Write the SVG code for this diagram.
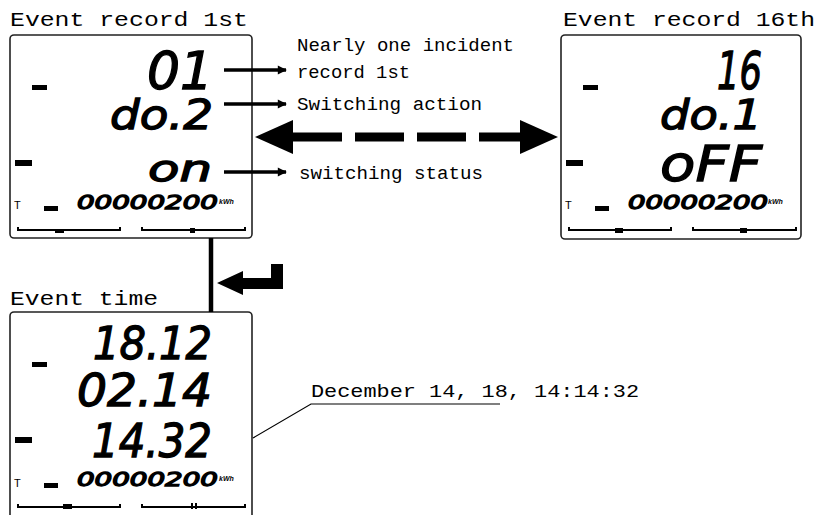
<svg xmlns="http://www.w3.org/2000/svg" width="817" height="515" viewBox="0 0 817 515">
<defs>
<style>
.title{font-family:"Liberation Mono","DejaVu Sans Mono",monospace;font-size:20px;fill:#000}
.lbl{font-family:"Liberation Mono","DejaVu Sans Mono",monospace;font-size:18px;fill:#000}
.lcd{font-family:"DejaVu Sans","Liberation Sans",sans-serif;font-style:italic;fill:#000;stroke:#000;stroke-width:1.3}
.small{font-family:"Liberation Sans","DejaVu Sans",sans-serif;font-size:11px;fill:#000}
.unit{font-family:"Liberation Sans","DejaVu Sans",sans-serif;font-size:7px;font-style:italic;font-weight:bold;fill:#000}
.frame{fill:#fff;stroke:#222;stroke-width:1.6}
.bar{fill:none;stroke:#000;stroke-width:2}
.thin{fill:none;stroke:#000;stroke-width:1.2}
.ptr{fill:none;stroke:#000;stroke-width:3.5}
</style>
<marker id="ah" viewBox="0 0 10 10" refX="9" refY="5" markerWidth="3" markerHeight="2.6" orient="auto" markerUnits="strokeWidth">
<path d="M0,0 L10,5 L0,10 z" fill="#000"/>
</marker>
<g id="deco">
<rect x="22" y="50" width="15" height="5" fill="#000"/>
<rect x="5" y="125" width="17" height="6" fill="#000"/>
<rect x="34" y="171" width="14" height="5" fill="#000"/>
<path class="bar" d="M8,192 V195 H110 V192 M132,192 V195 H235 V192"/>
</g>
</defs>

<g id="titles">
<text class="title" x="10" y="26" textLength="238" lengthAdjust="spacingAndGlyphs">Event record 1st</text>
<text class="title" x="563" y="26" textLength="252" lengthAdjust="spacingAndGlyphs">Event record 16th</text>
<text class="title" x="10" y="305" textLength="148" lengthAdjust="spacingAndGlyphs">Event time</text>
</g>

<g id="record1">
<rect class="frame" x="10" y="35" width="242" height="203" rx="4"/>
<use href="#deco" x="10" y="35"/>
<rect x="55" y="229" width="9" height="4" fill="#000"/>
<rect x="190" y="228" width="5" height="5" fill="#000"/>
<text class="small" x="14" y="209">T</text>
<text class="lcd" x="147" y="89" font-size="52" textLength="66" lengthAdjust="spacingAndGlyphs">01</text>
<text class="lcd" x="110" y="129" font-size="41" textLength="103" lengthAdjust="spacingAndGlyphs">do.2</text>
<text class="lcd" x="148" y="181" font-size="35" textLength="64" lengthAdjust="spacingAndGlyphs">on</text>
<text class="lcd" x="77" y="209" font-size="19" textLength="141" lengthAdjust="spacingAndGlyphs" stroke-width="0.8">00000200</text>
<text class="unit" x="219" y="204">kWh</text>
</g>

<g id="record16">
<rect class="frame" x="561" y="35" width="240" height="204" rx="4"/>
<use href="#deco" x="561" y="35"/>
<rect x="615" y="228" width="8" height="5" fill="#000"/>
<rect x="740" y="228" width="7" height="5" fill="#000"/>
<text class="small" x="565" y="209">T</text>
<text class="lcd" x="717" y="89" font-size="52" textLength="45" lengthAdjust="spacingAndGlyphs">16</text>
<text class="lcd" x="660" y="129" font-size="41" textLength="102" lengthAdjust="spacingAndGlyphs">do.1</text>
<text class="lcd" x="660" y="181" font-size="50" textLength="102" lengthAdjust="spacingAndGlyphs">oFF</text>
<text class="lcd" x="628" y="209" font-size="19" textLength="140" lengthAdjust="spacingAndGlyphs" stroke-width="0.8">00000200</text>
<text class="unit" x="768" y="204">kWh</text>
</g>

<g id="eventtime">
<rect class="frame" x="10" y="312" width="242" height="230" rx="4"/>
<use href="#deco" x="10" y="312"/>
<rect x="63" y="504" width="9" height="5" fill="#000"/>
<rect x="191" y="503" width="2" height="6" fill="#000"/>
<rect x="195" y="503" width="2" height="6" fill="#000"/>
<text class="small" x="14" y="487">T</text>
<text class="lcd" x="93" y="359" font-size="44" textLength="119" lengthAdjust="spacingAndGlyphs">18.12</text>
<text class="lcd" x="77" y="406" font-size="45" textLength="135" lengthAdjust="spacingAndGlyphs">02.14</text>
<text class="lcd" x="92" y="457" font-size="47" textLength="120" lengthAdjust="spacingAndGlyphs">14.32</text>
<text class="lcd" x="77" y="486" font-size="19" textLength="141" lengthAdjust="spacingAndGlyphs" stroke-width="0.8">00000200</text>
<text class="unit" x="219" y="481">kWh</text>
</g>

<g id="labels">
<text class="lbl" x="297" y="51" textLength="217" lengthAdjust="spacingAndGlyphs">Nearly one incident</text>
<text class="lbl" x="297" y="78" textLength="113" lengthAdjust="spacingAndGlyphs">record 1st</text>
<text class="lbl" x="297" y="110" textLength="185" lengthAdjust="spacingAndGlyphs">Switching action</text>
<text class="lbl" x="299" y="179" textLength="184" lengthAdjust="spacingAndGlyphs">switching status</text>
<text class="lbl" x="311" y="397" font-size="21" textLength="328" lengthAdjust="spacingAndGlyphs">December 14, 18, 14:14:32</text>
</g>

<g id="connectors">
<line class="ptr" x1="224" y1="70" x2="286" y2="70" marker-end="url(#ah)"/>
<line class="ptr" x1="224" y1="104" x2="286" y2="104" marker-end="url(#ah)"/>
<line class="ptr" x1="224" y1="172" x2="286" y2="172" marker-end="url(#ah)"/>
<path d="M293,137 H342 M355,137 H404 M417,137 H466 M479,137 H520" stroke="#000" stroke-width="9" fill="none"/>
<polygon points="255,137 293,120 293,154" fill="#000"/>
<polygon points="558,137 520,120 520,154" fill="#000"/>
<line x1="211" y1="238" x2="211" y2="312" stroke="#000" stroke-width="4.5"/>
<polygon points="217,283 243,271 243,278 271,278 271,264 283,264 283,289 243,289 243,295" fill="#000"/>
<polyline class="thin" points="253,438 311,404 500,404"/>
</g>
</svg>
